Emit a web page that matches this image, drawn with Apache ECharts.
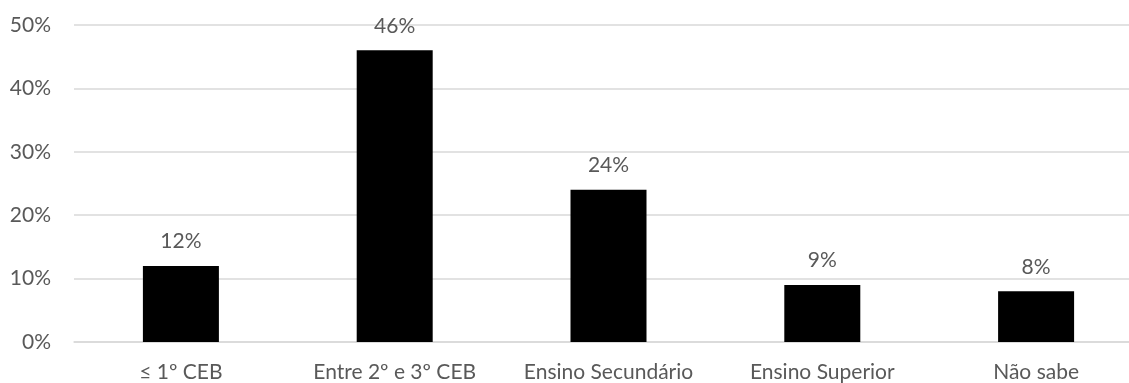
<!DOCTYPE html>
<html>
<head>
<meta charset="utf-8">
<script src="https://cdn.jsdelivr.net/npm/echarts@6/dist/echarts.min.js"></script>
<style>
  html, body { margin: 0; padding: 0; background: #ffffff; }
  #chart { width: 1129px; height: 383px; }
</style>
</head>
<body>
<div id="chart"></div>
<script>
// Nível de escolaridade: distribuição percentual das respostas
const categories = ['≤ 1º CEB', 'Entre 2º e 3º CEB', 'Ensino Secundário', 'Ensino Superior', 'Não sabe'];
const percentages = [12, 46, 24, 9, 8];
const yTicks = [0, 10, 20, 30, 40, 50];

const FONT = 'Lato';
const FONT_SIZE = 21;
const TEXT_COLOR = '#595959';
const GRID_COLOR = '#d9d9d9';

const chart = echarts.init(document.getElementById('chart'), null, { renderer: 'canvas' });

chart.setOption({
  animation: false,
  backgroundColor: '#ffffff',
  // the plot runs slightly past the right edge of the canvas
  grid: { left: 74, width: 1069, top: 25, bottom: 41, containLabel: false, outerBoundsMode: 'none' },
  xAxis: {
    type: 'category',
    data: categories,
    axisLine: { show: true, lineStyle: { color: GRID_COLOR, width: 1.5 } },
    axisTick: { show: false },
    axisLabel: { color: TEXT_COLOR, fontFamily: FONT, fontSize: FONT_SIZE, margin: 20, interval: 0 }
  },
  yAxis: {
    type: 'value',
    min: yTicks[0],
    max: yTicks[yTicks.length - 1],
    interval: yTicks[1] - yTicks[0],
    axisLine: { show: false },
    axisTick: { show: false },
    splitLine: { show: true, lineStyle: { color: GRID_COLOR, width: 1.5 } },
    axisLabel: {
      color: TEXT_COLOR, fontFamily: FONT, fontSize: FONT_SIZE, margin: 23,
      formatter: v => v + '%'
    }
  },
  series: [{
    type: 'bar',
    data: percentages,
    barWidth: 76,
    itemStyle: { color: '#000000' },
    label: {
      show: true,
      position: 'top',
      distance: 14,
      color: TEXT_COLOR,
      fontFamily: FONT,
      fontSize: FONT_SIZE,
      formatter: p => p.value + '%'
    }
  }]
});
</script>
</body>
</html>
